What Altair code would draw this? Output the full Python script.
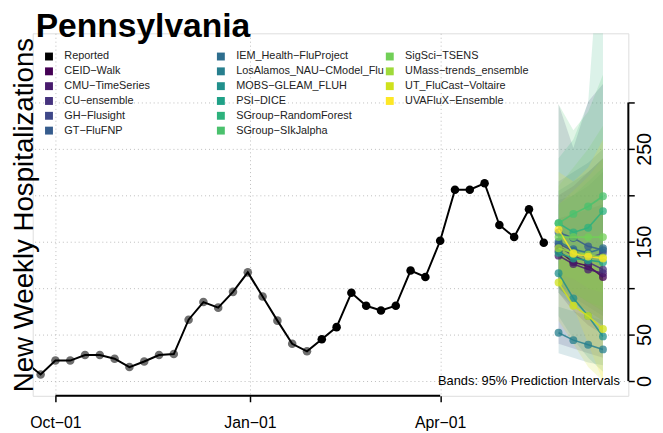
import altair as alt
import pandas as pd

FONT = "Liberation Sans"
W, H = 603, 367

# ---------------- data ----------------
report_dates = [d.strftime("%Y-%m-%d") for d in pd.date_range("2022-09-17", periods=36, freq="7D")]
report_values = [20, 7, 22, 22, 28, 28, 24, 15, 21, 28, 29, 66, 85, 79, 96, 117, 91, 65,
                 40, 32, 45, 58, 95, 81, 76, 81, 119, 112, 151, 206, 206, 213, 168, 155, 185, 149]
report_status = ["old"] * 20 + ["new"] * 16

forecast_dates = ["2023-05-27", "2023-06-03", "2023-06-10", "2023-06-17"]

legend_col1 = ["Reported", "CEID−Walk", "CMU−TimeSeries", "CU−ensemble", "GH−Flusight", "GT−FluFNP"]
legend_col2 = ["IEM_Health−FluProject", "LosAlamos_NAU−CModel_Flu", "MOBS−GLEAM_FLUH", "PSI−DICE",
               "SGroup−RandomForest", "SGroup−SIkJalpha"]
legend_col3 = ["SigSci−TSENS", "UMass−trends_ensemble", "UT_FluCast−Voltaire", "UVAFluX−Ensemble"]
colors_col1 = ["#000000", "#440154", "#481B6D", "#46337E", "#3F4889", "#365C8D"]
colors_col2 = ["#2E6E8E", "#277F8E", "#21908C", "#1FA187", "#2DB27D", "#4AC16D"]
colors_col3 = ["#71CF57", "#9FDA3A", "#CFE11C", "#FDE725"]

median = {
    "CEID−Walk": [140, 128, 124, 112],
    "CMU−TimeSeries": [135, 126, 120, 116],
    "CU−ensemble": [145, 135, 128, 120],
    "GH−Flusight": [148, 140, 132, 138],
    "GT−FluFNP": [160, 154, 145, 141],
    "IEM_Health−FluProject": [150, 142, 138, 143],
    "LosAlamos_NAU−CModel_Flu": [52, 44, 39, 34],
    "MOBS−GLEAM_FLUH": [116, 89, 70, 48],
    "PSI−DICE": [138, 132, 130, 128],
    "SGroup−RandomForest": [170, 160, 165, 183],
    "SGroup−SIkJalpha": [170, 180, 188, 199],
    "SigSci−TSENS": [155, 155, 155, 155],
    "UMass−trends_ensemble": [143, 138, 136, 133],
    "UT_FluCast−Voltaire": [106, 81, 70, 56],
    "UVAFluX−Ensemble": [163, 137, 134, 132],
}
lower95 = {
    "CEID−Walk": [95, 75, 60, 50],
    "CMU−TimeSeries": [100, 85, 75, 65],
    "CU−ensemble": [40, 35, 30, 25],
    "GH−Flusight": [105, 90, 80, 70],
    "GT−FluFNP": [110, 95, 85, 75],
    "IEM_Health−FluProject": [100, 85, 70, 60],
    "LosAlamos_NAU−CModel_Flu": [30, 25, 20, 17],
    "MOBS−GLEAM_FLUH": [70, 45, 25, 10],
    "PSI−DICE": [95, 80, 70, 60],
    "SGroup−RandomForest": [110, 95, 85, 80],
    "SGroup−SIkJalpha": [115, 110, 100, 95],
    "SigSci−TSENS": [105, 95, 85, 75],
    "UMass−trends_ensemble": [100, 85, 75, 65],
    "UT_FluCast−Voltaire": [65, 40, 15, 0],
    "UVAFluX−Ensemble": [110, 80, 40, 0],
}
upper95 = {
    "CEID−Walk": [200, 210, 225, 240],
    "CMU−TimeSeries": [175, 180, 185, 190],
    "CU−ensemble": [298, 251, 301, 320],
    "GH−Flusight": [195, 200, 210, 225],
    "GT−FluFNP": [215, 225, 235, 250],
    "IEM_Health−FluProject": [205, 215, 225, 240],
    "LosAlamos_NAU−CModel_Flu": [80, 75, 70, 65],
    "MOBS−GLEAM_FLUH": [170, 150, 140, 120],
    "PSI−DICE": [190, 200, 215, 230],
    "SGroup−RandomForest": [240, 260, 300, 520],
    "SGroup−SIkJalpha": [298, 270, 290, 330],
    "SigSci−TSENS": [210, 230, 250, 275],
    "UMass−trends_ensemble": [190, 205, 220, 240],
    "UT_FluCast−Voltaire": [160, 140, 135, 125],
    "UVAFluX−Ensemble": [225, 215, 230, 260],
}

y_ticks = [0, 50, 100, 150, 200, 250, 300]
y_labels_shown = [0, 50, 150, 250]
x_ticks = [(2022, 10, 1), (2023, 1, 1), (2023, 4, 1)]
x_domain = [(2022, 9, 20, 6), (2023, 6, 29, 0)]
y_domain = [-16, 374.5]
title_text = "Pennsylvania"
ytitle_text = "New Weekly Hospitalizations"
note_text = "Bands: 95% Prediction Intervals"
note_date = "2023-06-25"

# ---------------- tables ----------------
rep = pd.DataFrame({"date": report_dates, "value": report_values, "status": report_status})

groups = [(legend_col1, colors_col1), (legend_col2, colors_col2), (legend_col3, colors_col3)]
rows = []
for gi, (names, _) in enumerate(groups):
    for m in names:
        if m not in median:
            continue
        for i, d in enumerate(forecast_dates):
            rows.append({"group": gi, "model": m, "date": d, "med": median[m][i],
                         "lo": lower95[m][i], "hi": upper95[m][i]})
fc = pd.DataFrame(rows)

# ---------------- scales / axes ----------------
xscale = alt.Scale(type="utc", domain=[alt.DateTime(year=a, month=b, date=c, hours=h, utc=True)
                                       for a, b, c, h in x_domain])
yscale = alt.Scale(domain=y_domain, nice=False, zero=False)

xaxis = alt.Axis(
    values=[alt.DateTime(year=a, month=b, date=c, utc=True) for a, b, c in x_ticks],
    labelExpr="utcFormat(datum.value, '%b') + '−' + utcFormat(datum.value, '%d')",
    title=None, domain=False, grid=True, gridDash=[1, 3], gridColor="#bdbdbd", gridWidth=1,
    tickSize=6, tickColor="black", tickWidth=1.5, labelFontSize=16, labelFont=FONT,
    labelColor="black", labelPadding=13, labelFlush=False, labelOverlap=False,
)
xenc = alt.X("date:T", scale=xscale, axis=xaxis)

shown = ",".join(str(v) for v in y_labels_shown)
yaxis_right = alt.Axis(
    orient="right", values=y_ticks,
    labelExpr=f"indexof([{shown}], datum.value) >= 0 ? datum.label : ''",
    title=None, domain=False, grid=True, gridDash=[1, 3], gridColor="#bdbdbd", gridWidth=1,
    tickSize=6, tickColor="black", tickWidth=1.5, labelAngle=270, labelAlign="center",
    labelBaseline="top", labelFontSize=20, labelFont=FONT, labelColor="black",
    labelPadding=0, labelOverlap=False, labelFlush=False,
)
yaxis_left = alt.Axis(
    orient="left", title=ytitle_text, labels=False, ticks=False,
    domain=False, grid=False, titleFontSize=28, titleFont=FONT, titleFontWeight="normal",
    titleColor="black", titlePadding=0, titleBaseline="alphabetic",
)

layers = []

# prediction bands
for gi, (names, cols) in enumerate(groups):
    layers.append(
        alt.Chart(fc[fc.group == gi]).mark_area(opacity=0.17, clip=True).encode(
            x=xenc,
            y=alt.Y("lo:Q", scale=yscale, axis=None),
            y2="hi:Q",
            color=alt.Color("model:N", scale=alt.Scale(domain=names, range=cols), legend=None),
            detail="model:N",
        )
    )

# axis lines
axis_x = pd.DataFrame({"start": ["2022-10-01"], "end": ["2023-04-01"]})
layers.append(
    alt.Chart(axis_x).mark_rule(color="black", strokeWidth=2).encode(
        x=alt.X("start:T", scale=xscale, axis=xaxis), x2="end:T", y=alt.value(H)
    )
)
axis_y = pd.DataFrame({"lo": [y_ticks[0]], "hi": [y_ticks[-1]]})
layers.append(
    alt.Chart(axis_y).mark_rule(color="black", strokeWidth=2).encode(
        x=alt.value(W), y=alt.Y("lo:Q", scale=yscale, axis=None), y2="hi:Q"
    )
)

# reported data
layers.append(
    alt.Chart(rep).transform_filter("datum.status == 'old'").mark_circle(
        size=75, opacity=1, color="#6e6e6e", clip=True).encode(
        x=xenc, y=alt.Y("value:Q", scale=yscale, axis=None))
)
layers.append(
    alt.Chart(rep).mark_line(color="black", strokeWidth=2, clip=True).encode(
        x=xenc, y=alt.Y("value:Q", scale=yscale, axis=yaxis_right))
)
layers.append(
    alt.Chart(rep).transform_filter("datum.status == 'new'").mark_circle(
        size=75, opacity=1, color="black", clip=True).encode(
        x=xenc, y=alt.Y("value:Q", scale=yscale, axis=None))
)

# forecast medians
legend_x = [11, 185, 356]
for gi, (names, cols) in enumerate(groups):
    sub = fc[fc.group == gi]
    cscale = alt.Scale(domain=names, range=cols)
    layers.append(
        alt.Chart(sub).mark_line(strokeWidth=1.6, opacity=0.85, clip=True).encode(
            x=xenc, y=alt.Y("med:Q", scale=yscale, axis=None),
            color=alt.Color("model:N", scale=cscale, legend=None),
        )
    )
    layers.append(
        alt.Chart(sub).mark_circle(size=64, opacity=0.75, clip=True).encode(
            x=xenc, y=alt.Y("med:Q", scale=yscale, axis=None),
            color=alt.Color("model:N", scale=cscale, legend=alt.Legend(
                orient="none", legendX=legend_x[gi], legendY=18, title=None,
                symbolType="square", symbolSize=64, symbolOpacity=1, symbolStrokeWidth=0,
                labelFont=FONT, labelFontSize=11, labelColor="#222222", labelOffset=10,
                rowPadding=3, padding=0, labelLimit=300,
            )),
        )
    )

# annotation + left title
note = pd.DataFrame({"date": [note_date], "value": [0], "label": [note_text]})
layers.append(
    alt.Chart(note).mark_text(align="right", baseline="middle", font=FONT, fontSize=13,
                              color="black").encode(
        x=xenc, y=alt.Y("value:Q", scale=yscale, axis=yaxis_left), text="label:N")
)

# main title (text placed just above the plot area)
ttl = pd.DataFrame({"label": [title_text]})
layers.append(
    alt.Chart(ttl).mark_text(align="left", baseline="alphabetic", font=FONT, fontSize=34,
                             fontWeight="bold", color="black").encode(
        x=alt.value(3), y=alt.value(4), text="label:N")
)

chart = alt.layer(*layers).resolve_scale(color="independent").resolve_axis(y="independent").properties(
    width=W, height=H,
    autosize=alt.AutoSizeParams(type="none"),
    padding={"left": 25, "top": 23, "right": 27, "bottom": 35},
).configure_view(stroke=None).configure(background="white")

chart.save("out.html", embed_options={"renderer": "svg", "actions": False})
